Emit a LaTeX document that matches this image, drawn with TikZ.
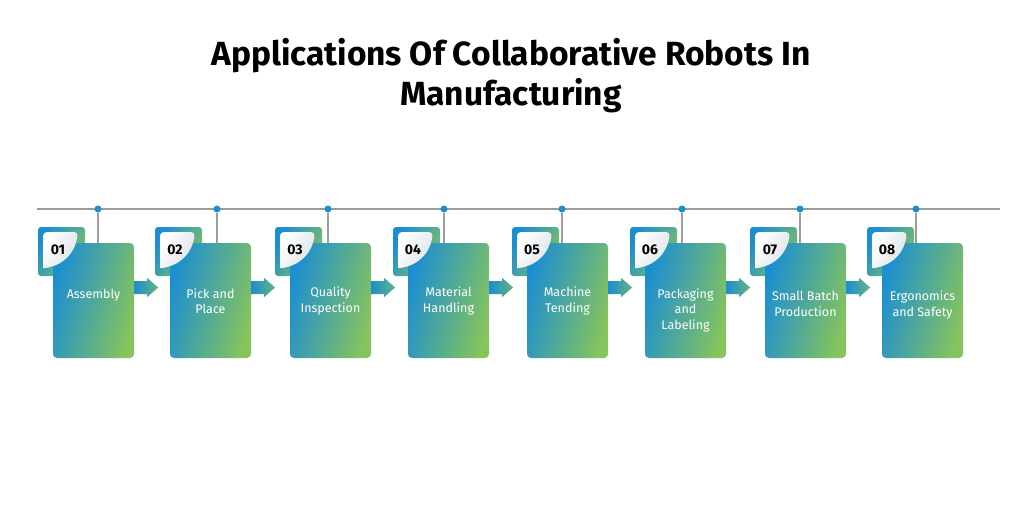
\documentclass[tikz,border=0pt]{standalone}
\usepackage{fontspec}
\setmainfont{Fira Sans}
\definecolor{appblue}{HTML}{1B8ED2}
\definecolor{appgreen}{HTML}{86C45C}
\definecolor{linegray}{HTML}{9C9C9C}
\definecolor{leafgray}{HTML}{DCE3E8}

\begin{document}
\begin{tikzpicture}[x=1pt, y=-1pt,
  card/.style={rounded corners=4pt, minimum width=81pt, minimum height=115pt, inner sep=0pt,
    left color=appblue, right color=appgreen, shading angle=75},
  backcard/.style={rounded corners=3pt, left color=appblue, right color=appgreen, shading angle=60},
  dot/.style={circle, fill=appblue, inner sep=0pt, minimum size=7pt},
  stem/.style={linegray, line width=1.3pt},
  flowarrow/.style={left color=appblue, right color=appgreen!70!appblue}]
\useasboundingbox (0,0) rectangle (1024,512);

% title
\node[anchor=base, font=\bfseries\fontsize{33.5}{40}\selectfont] (title1) at (511,65) {Applications Of Collaborative Robots In};
\node[anchor=base, font=\bfseries\fontsize{33.5}{40}\selectfont] (title2) at (511,105) {Manufacturing};

% timeline
\coordinate (lineL) at (37,209);
\coordinate (lineR) at (1000,209);
\draw[linegray, line width=1.3pt] (lineL) -- (lineR);

\foreach \i/\x/\d/\ty/\txt in {1/53/98/295/Assembly, 2/170/217/301/{Pick and\\Place},
    3/290/328/301/{Quality\\Inspection}, 4/408/444/301/{Material\\Handling},
    5/527/562/301/{Machine\\Tending}, 6/645/682/310/{Packaging\\and\\Labeling},
    7/765/800/304/{Small Batch\\Production}, 8/882/916/305/{Ergonomics\\and Safety}} {
  \shade[backcard] (\x-15,227) rectangle (\x+32,276);
  \node[card] (box\i) at (\x+40.5,300.5) {};
  \shade[left color=white, right color=leafgray, shading angle=60]
    [rounded corners=4pt] (\x-10,268) -- (\x-10,232) -- (\x+25,232)
    [sharp corners] .. controls (\x+22,255) and (\x+8,266) .. (\x-8,268) -- cycle;
  \node[font=\bfseries\fontsize{14}{14}\selectfont] (num\i) at (\x+5,250) {0\i};
  \node[align=center, text=white, font=\fontsize{12.5}{15.5}\selectfont] (txt\i) at (\x+40.5,\ty) {\txt};
  \node[dot] (dot\i) at (\d,209) {};
  \draw[stem] (dot\i) -- (dot\i |- box\i.north);
}

% arrows between the cards
\foreach \i in {1,...,7}
  \shade[flowarrow] ([yshift=13pt]box\i.east) ++(0,-6.5) -- ++(13,0) -- ++(0,-3) -- ++(11,9.5)
    -- ++(-11,9.5) -- ++(0,-3) -- ++(-13,0) -- cycle;
\end{tikzpicture}
\end{document}
